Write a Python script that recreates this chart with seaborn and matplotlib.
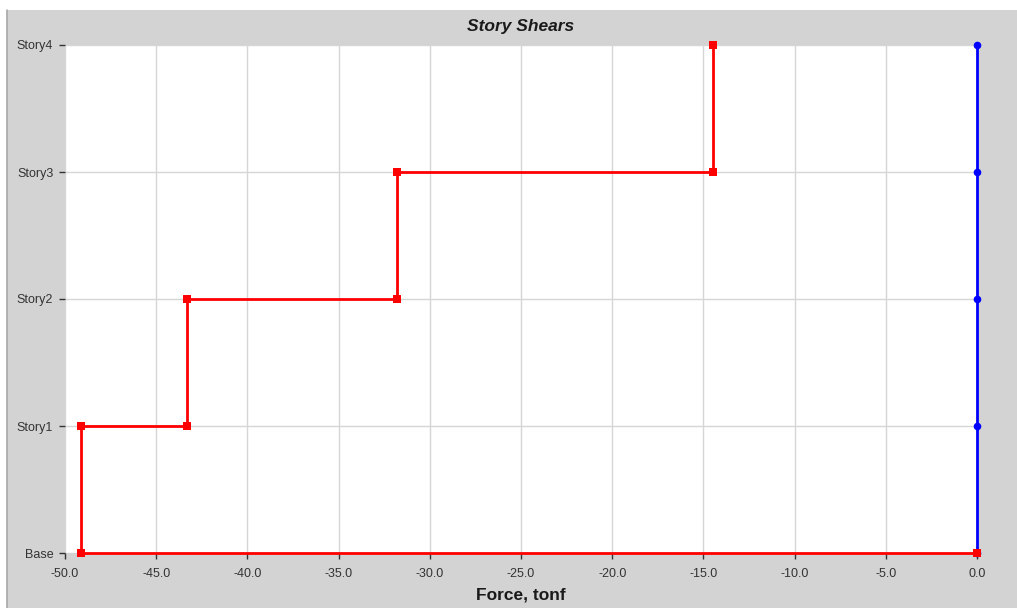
import pandas as pd
import matplotlib.pyplot as plt
import seaborn as sns
from matplotlib.patches import Rectangle
from matplotlib.lines import Line2D

# Story shear data (tonf), one value per story, Story1..Story4
stories = ['Base', 'Story1', 'Story2', 'Story3', 'Story4']
shear_x = [-49.1, -43.3, -31.8, -14.5]
shear_y = [0.0, 0.0, 0.0, 0.0]
x_ticks = [-50.0, -45.0, -40.0, -35.0, -30.0, -25.0, -20.0, -15.0, -10.0, -5.0, 0.0]

# Build step profile: shear constant over each story height, back to 0 at base
rows = []
for i in range(len(shear_x) - 1, -1, -1):
    rows.append({'Force': shear_x[i], 'Level': i + 1})
    rows.append({'Force': shear_x[i], 'Level': i})
rows.append({'Force': 0.0, 'Level': 0})
df_x = pd.DataFrame(rows)

df_y = pd.DataFrame({'Force': [shear_y[0]] + shear_y, 'Level': list(range(len(stories)))})

sns.set_style('whitegrid')
plt.rcParams['font.family'] = ['Liberation Sans', 'DejaVu Sans']

fig = plt.figure(figsize=(10.17, 6.08), dpi=100)
fig.patch.set_facecolor('white')
fig.patches.append(Rectangle((7 / 1017, 0), 1 - 7 / 1017, 598 / 608,
                             transform=fig.transFigure, facecolor='#d3d3d3',
                             edgecolor='none', zorder=-10))
fig.lines.append(Line2D([6.5 / 1017, 6.5 / 1017], [0, 598 / 608],
                        transform=fig.transFigure, color='#a8a8a8', lw=1.2))

ax = fig.add_axes([65 / 1017, 1 - 553 / 608, (977 - 65) / 1017, (553 - 45) / 608])
ax.set_facecolor('white')

sns.lineplot(data=df_x, x='Force', y='Level', sort=False, estimator=None,
             color='#ff0000', marker='s', markersize=5.5, markeredgewidth=0,
             linewidth=2.0, ax=ax, clip_on=False, zorder=4)
sns.lineplot(data=df_y, x='Force', y='Level', sort=False, estimator=None,
             color='#0000ff', marker='o', markersize=5.5, markeredgewidth=0,
             linewidth=2.0, ax=ax, clip_on=False, zorder=3)

ax.set_xlim(-50, 0)
ax.set_ylim(0, 4)
ax.set_xticks(x_ticks)
ax.set_xticklabels([f'{v:.1f}' for v in x_ticks])
ax.set_yticks(range(len(stories)))
ax.set_yticklabels(stories)
ax.grid(True, color='#d6d6d6', linewidth=1.0)
for s in ax.spines.values():
    s.set_visible(False)
ax.tick_params(axis='both', which='both', direction='out', length=4.5, width=1,
               color='#333333', labelsize=9, labelcolor='#333333')
ax.tick_params(axis='x', pad=6)
ax.tick_params(axis='y', pad=4)
ax.tick_params(left=True, bottom=True)

ax.set_ylabel('')
ax.set_xlabel('Force, tonf', fontsize=12.5, fontweight='bold', color='#1a1a1a', labelpad=6)
fig.text(521 / 1017, 1 - 26 / 608, 'Story Shears', ha='center', va='center',
         fontsize=12.5, fontweight='bold', fontstyle='italic', color='#1a1a1a')

plt.savefig('out.png', dpi=100)
